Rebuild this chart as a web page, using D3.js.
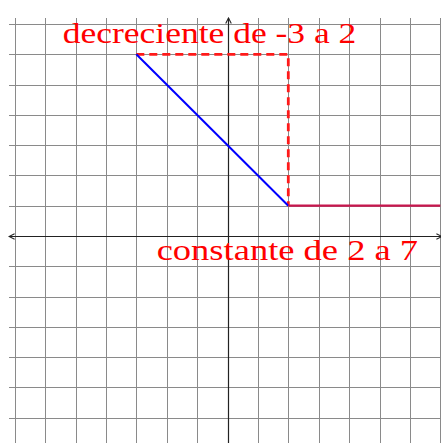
<!DOCTYPE html>
<html>
<head>
<meta charset="utf-8">
<script src="https://cdn.jsdelivr.net/npm/d3@7"></script>
<style>
  body { margin: 0; background: #fff; }
  svg { display: block; }
</style>
</head>
<body>
<div id="chart"></div>
<script>
var width = 441, height = 443;

// grid / axis ticks (units)
var gridTicks = [-7, -6, -5, -4, -3, -2, -1, 0, 1, 2, 3, 4, 5, 6, 7];

// decreasing piece from x=-3 to x=2
var decX = [-3, 2];
var decY = [6, 1];

// constant piece from x=2 to x=7
var constX = [2, 7];
var constY = [1, 1];

// dashed guides
var guideX = [-3, 2, 2];
var guideY = [6, 6, 1];

var labels = ["decreciente de -3 a 2", "constante de 2 a 7"];

var svg = d3.select("#chart").append("svg")
  .attr("width", width)
  .attr("height", height);

var x = d3.scaleLinear().domain([-7, 7]).range([14.7, 440.3]);
var y = d3.scaleLinear().domain([-7, 7]).range([448, 24]);

// label placement: start, end (x units) and baseline (y units)
var labelBox = [[-5.42, 4.24, 6.37], [-2.33, 6.27, -0.8]];

// grid
var grid = svg.append("g").attr("stroke", "#8a8a8a").attr("stroke-width", 1);
grid.selectAll("line.v").data(gridTicks).enter().append("line")
  .attr("class", "v")
  .attr("x1", d => Math.round(x(d)) + 0.5).attr("x2", d => Math.round(x(d)) + 0.5)
  .attr("y1", 18).attr("y2", height);
grid.selectAll("line.h").data(gridTicks).enter().append("line")
  .attr("class", "h")
  .attr("y1", d => Math.round(y(d)) + 0.5).attr("y2", d => Math.round(y(d)) + 0.5)
  .attr("x1", 9).attr("x2", width);

// axes with arrow heads
var defs = svg.append("defs");
defs.append("marker")
  .attr("id", "arrow")
  .attr("viewBox", "0 0 10 10")
  .attr("refX", 9).attr("refY", 5)
  .attr("markerWidth", 7).attr("markerHeight", 7)
  .attr("markerUnits", "userSpaceOnUse")
  .attr("orient", "auto-start-reverse")
  .append("path")
  .attr("d", "M1,1 L9,5 L1,9")
  .attr("fill", "none")
  .attr("stroke", "#222")
  .attr("stroke-width", 1.5);

var ox = Math.round(x(0)) + 0.5, oy = Math.round(y(0)) + 0.5;
svg.append("line")
  .attr("x1", 9).attr("x2", width + 1)
  .attr("y1", oy).attr("y2", oy)
  .attr("stroke", "#222").attr("stroke-width", 1.2)
  .attr("marker-start", "url(#arrow)")
  .attr("marker-end", "url(#arrow)");
svg.append("line")
  .attr("x1", ox).attr("x2", ox)
  .attr("y1", height + 2).attr("y2", 18)
  .attr("stroke", "#222").attr("stroke-width", 1.2)
  .attr("marker-end", "url(#arrow)");

var line = d3.line().x(d => x(d[0])).y(d => y(d[1]));

// dashed guides
svg.append("path")
  .datum(d3.zip(guideX, guideY))
  .attr("d", line)
  .attr("fill", "none")
  .attr("stroke", "#ff1a1a")
  .attr("stroke-width", 2.8)
  .attr("stroke-dasharray", "8,5");

// decreasing piece
svg.append("path")
  .datum(d3.zip(decX, decY))
  .attr("d", line)
  .attr("fill", "none")
  .attr("stroke", "#0000ff")
  .attr("stroke-width", 2);

// constant piece
svg.append("path")
  .datum(d3.zip(constX, constY))
  .attr("d", line)
  .attr("fill", "none")
  .attr("stroke", "#c8164e")
  .attr("stroke-width", 2.2);

// labels
svg.selectAll("text.lbl").data(labels).enter().append("text")
  .attr("class", "lbl")
  .attr("x", (d, i) => x(labelBox[i][0]))
  .attr("y", (d, i) => y(labelBox[i][2]))
  .attr("textLength", (d, i) => x(labelBox[i][1]) - x(labelBox[i][0]))
  .attr("lengthAdjust", "spacingAndGlyphs")
  .attr("fill", "#ff0000")
  .style("font-family", "'Liberation Serif', 'DejaVu Serif', serif")
  .style("font-size", "30px")
  .text(d => d);
</script>
</body>
</html>
